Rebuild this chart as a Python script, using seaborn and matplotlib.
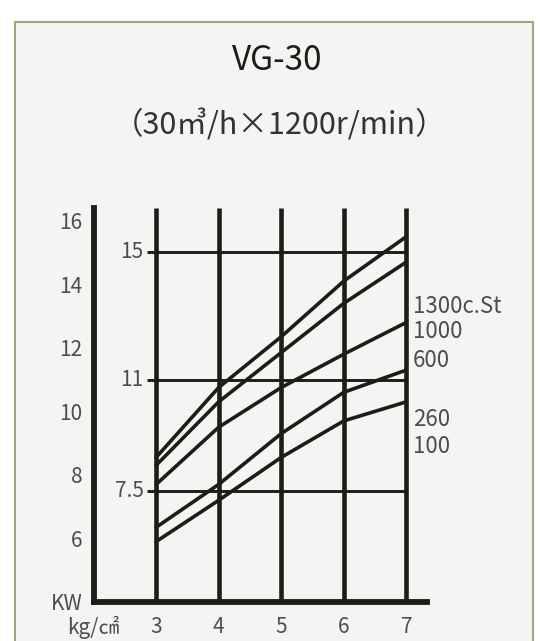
import pandas as pd
import numpy as np
import seaborn as sns
import matplotlib.pyplot as plt
from matplotlib.patches import Rectangle

# values
pressure = [3, 4, 5, 6, 7]
visc_labels = ['1300c.St', '1000', '600', '260', '100']
kw_1300 = [8.55, 10.75, 12.35, 14.1, 15.5]
kw_1000 = [8.3, 10.3, 11.85, 13.4, 14.7]
kw_600 = [7.7, 9.5, 10.75, 11.8, 12.8]
kw_260 = [6.35, 7.7, 9.3, 10.6, 11.3]
kw_100 = [5.9, 7.2, 8.55, 9.7, 10.3]
ref_lines = [15, 11, 7.5]
ref_labels = ['15', '11', '7.5']
yticks = [4, 6, 8, 10, 12, 14, 16]
ytick_labels = ['KW', '6', '8', '10', '12', '14', '16']
xticks = [2, 3, 4, 5, 6, 7]
xtick_labels = ['kg/㎠', '3', '4', '5', '6', '7']

de = pd.DataFrame({
    'pressure': pressure * 5,
    'kw': kw_1300 + kw_1000 + kw_600 + kw_260 + kw_100,
    'visc': np.repeat(visc_labels, len(pressure)),
})

sns.set_style('white')
plt.rcParams['font.family'] = ['Noto Sans CJK JP', 'DejaVu Sans']

bg = '#f4f5f3'
ink = '#1c1c18'
grey = '#4d4d4d'

fig = plt.figure(figsize=(5.51, 6.41), dpi=100)
fig.patch.set_facecolor('white')
fig.patches.append(Rectangle((15 / 551, -0.05), 518 / 551, 1 - 22 / 641 + 0.05,
                             transform=fig.transFigure, facecolor=bg,
                             edgecolor='#a3a382', linewidth=1.5, zorder=-1))

ax = fig.add_axes([93.5 / 551, 39 / 641, 333.5 / 551, 394 / 641])
ax.set_facecolor('none')

ax.vlines(pressure, 4, 16.4, color=ink, linewidth=3.3, zorder=2)
ax.hlines(ref_lines, 2.85, 7, color=ink, linewidth=2.1, zorder=2)
sns.lineplot(data=de, x='pressure', y='kw', hue='visc',
             palette=[ink] * 5, linewidth=2.6, legend=False, ax=ax, zorder=3)

ax.set_xlim(2, 7.33)
ax.set_ylim(4, 16.4)
sns.despine(ax=ax, top=True, right=True)
for s in ['left', 'bottom']:
    ax.spines[s].set_linewidth(4.2)
    ax.spines[s].set_color(ink)

ax.set_yticks(yticks)
ax.set_yticklabels(ytick_labels)
ax.set_xticks(xticks)
ax.set_xticklabels(xtick_labels)
ax.tick_params(axis='y', which='major', direction='out', length=4, width=2,
               color=ink, labelsize=15, labelcolor=grey, pad=4)
ax.tick_params(axis='x', length=0, labelsize=15, labelcolor=grey, pad=10)
ax.set_yticks(ref_lines, minor=True)
ax.tick_params(axis='y', which='minor', direction='in', length=7, width=2, color=ink)
ax.set_xlabel('')
ax.set_ylabel('')

for v, lab in zip(ref_lines, ref_labels):
    ax.text(2.8, v, lab, ha='right', va='center', fontsize=15, color=grey)

label_y = [13.3, 12.5, 11.6, 9.75, 8.9]
for v, lab in zip(label_y, visc_labels):
    ax.text(7.1, v, lab, ha='left', va='center', fontsize=16, color=grey)

fig.text(0.503, 1 - 61 / 641, 'VG-30', ha='center', va='center', fontsize=24, color=ink)
fig.text(0.508, 1 - 125 / 641, '（30㎥/h×1200r/min）', ha='center', va='center',
         fontsize=22, color='#333333')

plt.savefig('out.png', dpi=100)
